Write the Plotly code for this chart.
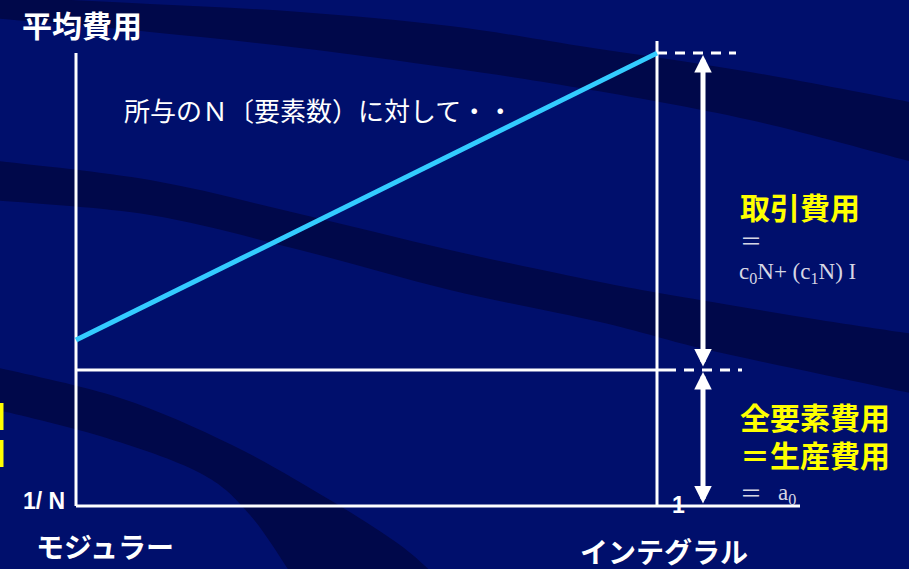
import plotly.graph_objects as go

# ---------------- data ----------------
x_tick_labels = ["1/ N", "1"]          # modular end, integral end
x_positions = [0.0, 1.0]               # modular = 0, integral = 1
x_axis_names = ["モジュラー", "インテグラル"]
avg_cost = [1.22, 3.33]                # average cost line (modular -> integral)
production_cost = 1.0                  # a0 : all-element cost = production cost
y_axis_title = "平均費用"

# ---------------- layout constants ----------------
W, H = 909, 569
X0PX, X1PX = 76, 657        # pixel of x=0 and x=1
Y0PX, Y1PX = 506, 370       # pixel of y=0 and y=production_cost
SX = (X1PX - X0PX) / (x_positions[1] - x_positions[0])
SY = (Y0PX - Y1PX) / production_cost

def dx(px):
    return (px - X0PX) / SX

def dy(py):
    return (Y0PX - py) / SY

def ppx(px):
    return px / W

def ppy(py):
    return 1 - py / H

BG = "#000F6C"
BAND = "#00084A"
WHITE = "white"
CYAN = "#33CCFF"
YELLOW = "#FFFF00"
GREY = "#D6D6E4"
JP = "Noto Sans CJK JP"

axis_top = avg_cost[1]
frame_top = dy(41)
axis_right = dx(800)
arrow_x = dx(703)

fig = go.Figure()

# axes frame lines
fig.add_trace(go.Scatter(x=[x_positions[0], x_positions[0]], y=[0, axis_top], mode="lines",
                         line=dict(color=WHITE, width=3), hoverinfo="skip"))
fig.add_trace(go.Scatter(x=[x_positions[0], axis_right], y=[0, 0], mode="lines",
                         line=dict(color=WHITE, width=3), hoverinfo="skip"))
fig.add_trace(go.Scatter(x=[x_positions[1], x_positions[1]], y=[0, frame_top], mode="lines",
                         line=dict(color=WHITE, width=3), hoverinfo="skip"))
# production cost level
fig.add_trace(go.Scatter(x=[x_positions[0], dx(666)],
                         y=[production_cost, production_cost], mode="lines",
                         line=dict(color=WHITE, width=3), hoverinfo="skip"))
# dashed extensions
fig.add_trace(go.Scatter(x=[x_positions[1], dx(736)], y=[avg_cost[1], avg_cost[1]], mode="lines",
                         line=dict(color=WHITE, width=3, dash="10px,8px"), hoverinfo="skip"))
fig.add_trace(go.Scatter(x=[dx(666), dx(742)], y=[production_cost, production_cost], mode="lines",
                         line=dict(color=WHITE, width=3, dash="10px,8px"), hoverinfo="skip"))
# average cost line
fig.add_trace(go.Scatter(x=x_positions, y=avg_cost, mode="lines",
                         line=dict(color=CYAN, width=5), hoverinfo="skip"))

# ---------------- background bands ----------------
def smooth(points):
    pts = [points[0]] + points + [points[-1]]
    cmds = []
    for i in range(1, len(pts) - 2):
        p0, p1, p2, p3 = pts[i - 1], pts[i], pts[i + 1], pts[i + 2]
        c1 = (p1[0] + (p2[0] - p0[0]) / 6, p1[1] + (p2[1] - p0[1]) / 6)
        c2 = (p2[0] - (p3[0] - p1[0]) / 6, p2[1] - (p3[1] - p1[1]) / 6)
        cmds.append("C%.5f,%.5f %.5f,%.5f %.5f,%.5f" % (
            ppx(c1[0]), ppy(c1[1]), ppx(c2[0]), ppy(c2[1]), ppx(p2[0]), ppy(p2[1])))
    return cmds

def band_path(upper, lower):
    s = "M%.5f,%.5f " % (ppx(upper[0][0]), ppy(upper[0][1]))
    s += " ".join(smooth(upper))
    s += " L%.5f,%.5f " % (ppx(lower[0][0]), ppy(lower[0][1]))
    s += " ".join(smooth(lower))
    s += " Z"
    return s

bands = [
    ([(-10, -4), (150, 4), (300, 12), (450, 26), (580, 46), (750, 72), (920, 104)],
     [(920, 164), (750, 120), (580, 88), (450, 68), (300, 48), (150, 32), (-10, 18)]),
    ([(-10, 160), (150, 180), (300, 214), (450, 250), (600, 282), (700, 300), (820, 320), (920, 335)],
     [(920, 395), (820, 374), (700, 348), (600, 322), (450, 290), (300, 250), (150, 215), (-10, 200)]),
    ([(-10, 366), (120, 398), (232, 445), (330, 500), (400, 545), (440, 580)],
     [(295, 580), (250, 515), (200, 473), (100, 436), (-10, 408)]),
]
shapes = []
for up, lo in bands:
    shapes.append(dict(type="path", xref="paper", yref="paper", path=band_path(up, lo),
                       fillcolor=BAND, line=dict(width=0), layer="below"))
# cut-off yellow text remnants at left edge
for y0, y1 in [(403, 430), (440, 467)]:
    shapes.append(dict(type="rect", xref="paper", yref="paper", x0=0, x1=ppx(3.5),
                       y0=ppy(y1), y1=ppy(y0), fillcolor=YELLOW, line=dict(width=0), layer="above"))

# ---------------- arrows ----------------
annotations = []
gap = dy(0) - dy(2)
for top, bot in [(avg_cost[1] - gap, production_cost + gap), (production_cost - gap, 0 + gap / 2)]:
    annotations.append(dict(x=arrow_x, y=top, ax=arrow_x, ay=bot, xref="x", yref="y",
                            axref="x", ayref="y", text="", showarrow=True,
                            arrowhead=2, startarrowhead=2, arrowside="end+start",
                            arrowsize=0.7, startarrowsize=0.7, arrowwidth=5,
                            arrowcolor=WHITE))

def txt(text, xpx, ypx, size, color=WHITE, family=JP, xanchor="left", yanchor="middle"):
    annotations.append(dict(text=text, x=ppx(xpx), y=ppy(ypx), xref="paper", yref="paper",
                            showarrow=False, xanchor=xanchor, yanchor=yanchor,
                            font=dict(size=size, color=color, family=family)))

txt("<b>%s</b>" % y_axis_title, 20, 24, 30)
txt("所与のＮ〔要素数）に対して・・", 122, 110, 26)
txt("<b>取引費用</b>", 738, 206, 30, YELLOW)
txt("＝", 738, 239, 22, GREY)
txt("c<sub>0</sub>N+ (c<sub>1</sub>N) I", 737, 273, 23, GREY, "Liberation Serif")
txt("<b>全要素費用</b>", 738, 416, 30, YELLOW)
txt("<b>＝生産費用</b>", 738, 454, 30, YELLOW)
txt("＝", 738, 491, 22, GREY)
txt("a<sub>0</sub>", 776, 494, 23, GREY, "Liberation Serif")
txt("<b>%s</b>" % x_tick_labels[0], 67, 501, 23, WHITE, "Liberation Sans", xanchor="right")
txt("<b>%s</b>" % x_tick_labels[1], 678, 505, 23, WHITE, "Liberation Sans", xanchor="center")
txt("<b>%s</b>" % x_axis_names[0], 105, 546, 28, xanchor="center")
txt("<b>%s</b>" % x_axis_names[1], 664, 551, 28, xanchor="center")

fig.update_layout(
    width=W, height=H,
    margin=dict(l=0, r=0, t=0, b=0),
    paper_bgcolor=BG, plot_bgcolor="rgba(0,0,0,0)",
    showlegend=False,
    xaxis=dict(range=[dx(0), dx(W)], visible=False, fixedrange=True),
    yaxis=dict(range=[dy(H), dy(0)], visible=False, fixedrange=True),
    shapes=shapes, annotations=annotations,
)
fig.write_html("out.html", config={"displayModeBar": False},
               post_script="document.body.style.margin='0';document.body.style.overflow='hidden';document.body.style.background='%s';" % BG)
